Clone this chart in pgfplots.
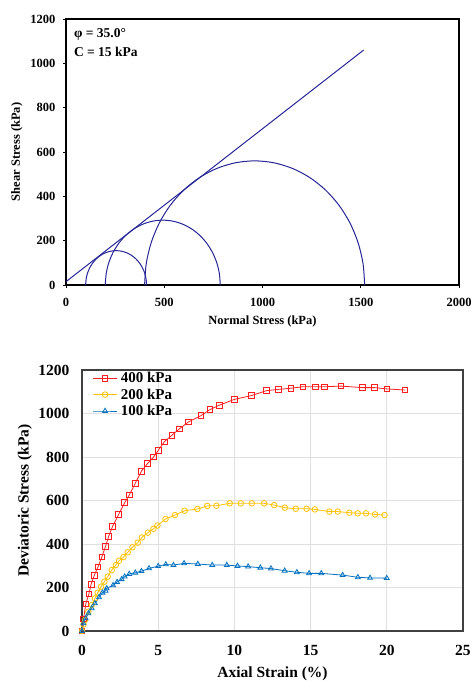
\documentclass[border=0pt]{standalone}
\usepackage{fontspec}
\setmainfont{Liberation Serif}
\usepackage{pgfplots}
\pgfplotsset{compat=1.18}
\definecolor{navy}{RGB}{38,38,150}
\definecolor{xred}{RGB}{255,30,30}
\definecolor{xyel}{RGB}{255,192,0}
\definecolor{xblue}{RGB}{0,112,192}
\begin{document}
\begin{tikzpicture}
\useasboundingbox (0,0) rectangle (473pt,681pt);
% ---------------- Mohr circles ----------------
\begin{axis}[
  at={(66pt,396pt)}, anchor=south west,
  scale only axis, width=393pt, height=266pt,
  xmin=0, xmax=2000, ymin=0, ymax=1200,
  xtick={0,500,...,2000}, ytick={0,200,...,1200},
  tick align=outside, xtick pos=bottom, ytick pos=left,
  major tick length=3pt,
  every tick/.style={black, line width=0.6pt},
  axis line style={black, line width=1.1pt},
  /pgf/number format/assume math mode=true,
  /pgf/number format/1000 sep={},
  ticklabel style={font=\fontsize{12.5}{14}\selectfont\bfseries},
  xticklabel style={yshift=-7pt},
  yticklabel style={xshift=-4pt},
  xlabel={Normal Stress (kPa)}, ylabel={Shear Stress (kPa)},
  label style={font=\fontsize{12.5}{14}\selectfont\bfseries},
  xlabel style={at={(axis description cs:0.5,-0.139)}, anchor=center},
  ylabel style={at={(axis description cs:-0.125,0.5)}, anchor=center, rotate=0},
  clip=false,
]
\addplot[navy, line width=1pt] coordinates {(0,15) (1515,1060)};
\addplot[navy, line width=1pt, smooth] coordinates {
(100,0) (102.4,26.9) (109.3,53.0) (120.8,77.5) (136.3,99.6) (155.4,118.7) (177.5,134.2) (202.0,145.7) (228.1,152.6) (255,155)
(281.9,152.6) (308.0,145.7) (332.5,134.2) (354.6,118.7) (373.7,99.6) (389.2,77.5) (400.7,53.0) (407.6,26.9) (410,0)};
\addplot[navy, line width=1pt, smooth] coordinates {
(200,0) (204.4,50.8) (217.6,100.0) (239.2,146.3) (268.4,188.0) (304.5,224.1) (346.3,253.3) (392.5,274.9) (441.7,288.1) (492.5,292.5)
(543.3,288.1) (592.5,274.9) (638.8,253.3) (680.5,224.1) (716.6,188.0) (745.8,146.3) (767.4,100.0) (780.6,50.8) (785,0)};
\addplot[navy, line width=1pt, smooth] coordinates {
(400,0) (408.5,97.2) (433.8,191.5) (475.0,280.0) (531.0,360.0) (600.0,429.0) (680.0,485.0) (768.5,526.2) (862.8,551.5) (960,560)
(1057.2,551.5) (1151.5,526.2) (1240,485.0) (1320,429.0) (1389,360.0) (1445,280.0) (1486.2,191.5) (1511.5,97.2) (1520,0)};
\node[anchor=north west, align=left, font=\fontsize{13.5}{19}\selectfont\bfseries, inner sep=0pt]
  at (axis description cs:0.02,0.965) {φ = 35.0°\\C = 15 kPa};
\end{axis}
% ---------------- Stress-strain ----------------
\begin{axis}[
  at={(82pt,50pt)}, anchor=south west,
  scale only axis, width=381pt, height=261pt,
  xmin=0, xmax=25, ymin=0, ymax=1200,
  xtick={0,5,...,25}, ytick={0,200,...,1200},
  major tick length=0pt,
  grid=major, grid style={black!12, line width=0.8pt},
  axis line style={black!75, line width=1.3pt},
  /pgf/number format/assume math mode=true,
  /pgf/number format/1000 sep={},
  ticklabel style={font=\fontsize{15.5}{17}\selectfont\bfseries},
  xticklabel style={yshift=-11pt},
  yticklabel style={xshift=-9pt},
  xlabel={Axial Strain (\%)}, ylabel={Deviatoric Stress (kPa)},
  label style={font=\fontsize{15.5}{17}\selectfont\bfseries},
  xlabel style={at={(axis description cs:0.5,-0.163)}, anchor=center},
  ylabel style={at={(axis description cs:-0.150,0.5)}, anchor=center, rotate=0},
  legend style={at={(axis description cs:0.025,0.998)}, anchor=north west, draw=none, fill=none,
    font=\fontsize{15}{16}\selectfont\bfseries, row sep=3.5pt, inner sep=1pt,
    nodes={inner sep=0.5pt},
    /tikz/every odd column/.append style={column sep=3pt}},
  legend cell align=left,
  legend image code/.code={\draw[mark repeat=2, mark phase=2] plot coordinates {(0cm,0cm) (0.42cm,0cm) (0.84cm,0cm)};},
  every axis plot/.append style={line width=0.8pt, mark size=2.8pt},
  clip=false,
]
\addplot[xred, mark=square, mark options={solid, line width=0.8pt}] coordinates {
(0,0) (0.1,55) (0.25,125) (0.45,170) (0.6,215) (0.8,255) (1.05,295) (1.3,340) (1.55,390) (1.75,435)
(2.0,480) (2.4,535) (2.8,590) (3.1,625) (3.5,680) (3.9,735) (4.3,770) (4.7,800) (5.0,830) (5.4,870)
(5.9,900) (6.4,930) (7.0,962) (7.8,990) (8.4,1018) (9.0,1038) (10.0,1065) (11.1,1082) (12.1,1105) (12.9,1111)
(13.7,1116) (14.5,1123) (15.3,1123) (15.9,1123) (17.0,1126) (18.4,1119) (19.2,1119) (20.0,1113) (21.2,1108)};
\addlegendentry{400 kPa}
\addplot[xyel, mark=o, mark options={solid, line width=0.8pt}] coordinates {
(0,0) (0.1,30) (0.2,51) (0.42,89) (0.64,120) (0.85,150) (1.03,176) (1.25,204) (1.47,227) (1.69,250)
(1.95,280) (2.22,303) (2.43,323) (2.72,340) (3.0,362) (3.31,385) (3.66,406) (3.93,430) (4.32,452) (4.69,470)
(4.95,485) (5.48,515) (6.1,533) (6.73,553) (7.57,561) (8.22,575) (8.82,576) (9.69,587) (10.42,587) (11.14,587)
(11.95,587) (12.61,579) (13.31,567) (14.03,562) (14.74,562) (15.28,559) (16.23,549) (16.78,549) (17.54,544) (18.09,541)
(18.64,541) (19.23,536) (19.85,533)};
\addlegendentry{200 kPa}
\addplot[xblue, mark=triangle, mark options={solid, line width=0.8pt}] coordinates {
(0,0) (0.09,35) (0.24,58) (0.42,81) (0.64,104) (0.85,127) (1.12,155) (1.34,176) (1.55,185) (1.62,196)
(2.04,210) (2.3,225) (2.6,238) (2.8,250) (3.1,262) (3.5,268) (3.9,275) (4.4,288) (5.0,298) (5.5,306)
(6.0,303) (6.7,311) (7.6,308) (8.55,303) (9.5,303) (10.2,299) (10.9,296) (11.7,291) (12.4,287) (13.3,277)
(14.1,270) (14.9,265) (15.7,265) (17.1,257) (18.1,247) (18.9,244) (20.0,243)};
\addlegendentry{100 kPa}
\end{axis}
\end{tikzpicture}
\end{document}
